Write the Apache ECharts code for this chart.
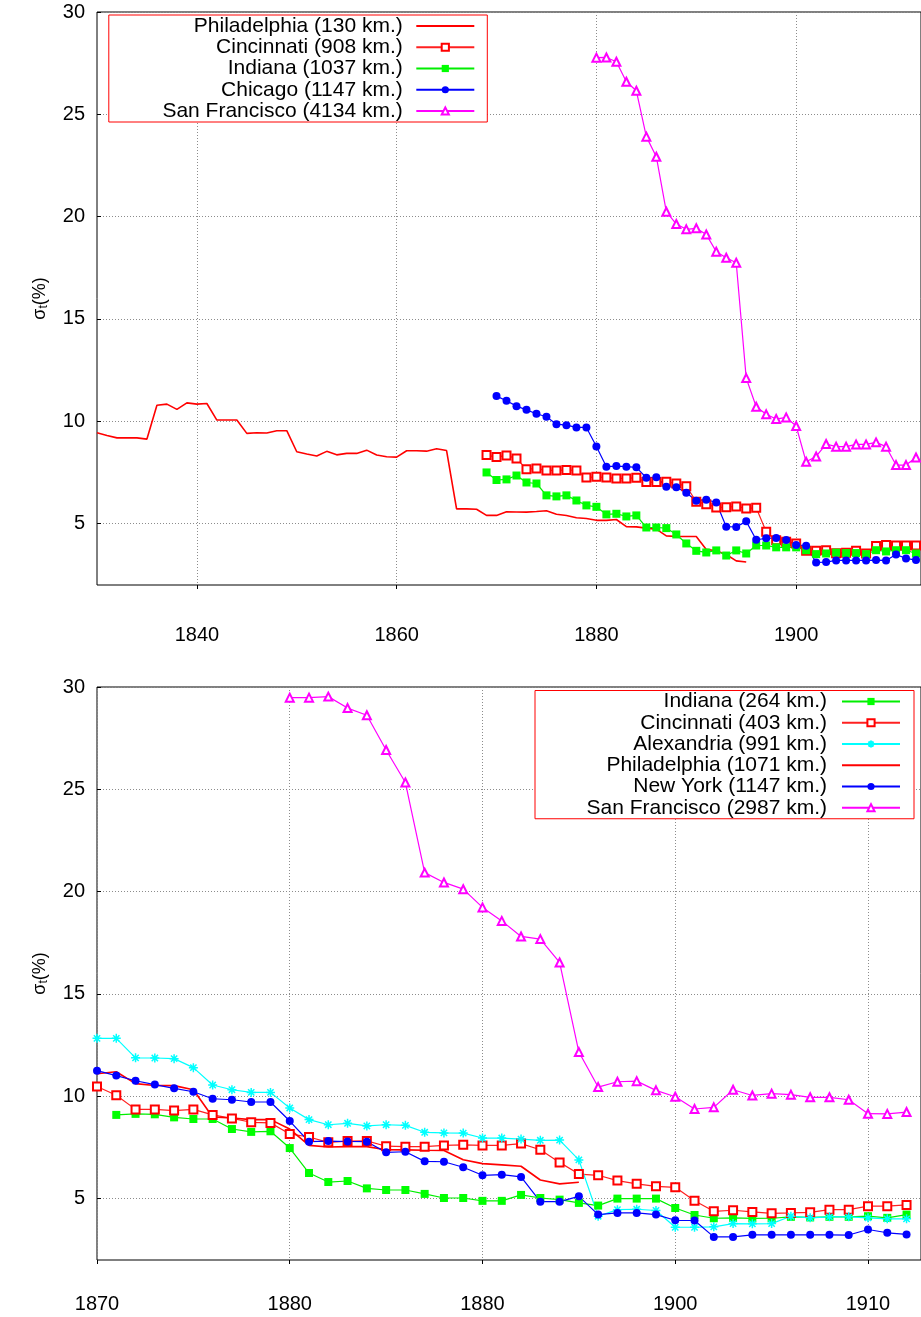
<!DOCTYPE html>
<html><head><meta charset="utf-8">
<script src="https://cdn.jsdelivr.net/npm/echarts@6/dist/echarts.min.js"></script>
<style>html,body{margin:0;padding:0;background:#fff}#c{width:921px;height:1317px}</style>
</head><body><div id="c"></div>
<script>
// ---------- tick labels ----------
const yTicks = [5, 10, 15, 20, 25, 30];
const topXTicks = [1840, 1860, 1880, 1900];
const topXLabels = ['1840', '1860', '1880', '1900'];
const bottomXTicks = [1870, 1880, 1890, 1900, 1910];
const bottomXLabels = ['1870', '1880', '1880', '1900', '1910'];

// ---------- top panel series (start year + yearly values) ----------
const topNames = ['Philadelphia (130 km.)', 'Cincinnati (908 km.)', 'Indiana (1037 km.)', 'Chicago (1147 km.)', 'San Francisco (4134 km.)'];
const topPhiladelphiaStart = 1830;
const topPhiladelphia = [9.44, 9.31, 9.19, 9.19, 9.19, 9.13, 10.78, 10.84, 10.58, 10.90,
  10.84, 10.87, 10.06, 10.06, 10.06, 9.41, 9.44, 9.43, 9.54, 9.54,
  8.51, 8.40, 8.30, 8.53, 8.36, 8.43, 8.43, 8.59, 8.35, 8.27,
  8.25, 8.56, 8.56, 8.54, 8.66, 8.57, 5.72, 5.72, 5.70, 5.40,
  5.40, 5.58, 5.57, 5.56, 5.59, 5.63, 5.46, 5.40, 5.29, 5.25,
  5.16, 5.16, 5.20, 4.85, 4.84, 4.78, 4.73, 4.40, 4.37, 4.37,
  4.37, 3.74, 3.67, 3.49, 3.18, 3.12];
const topCincinnatiStart = 1869;
const topCincinnati = [8.35, 8.25, 8.33, 8.18, 7.66, 7.69, 7.60, 7.60, 7.62, 7.60,
  7.25, 7.29, 7.25, 7.21, 7.21, 7.24, 7.03, 7.03, 7.04, 6.96,
  6.83, 6.07, 5.95, 5.79, 5.80, 5.84, 5.74, 5.77, 4.60, 4.19,
  4.11, 4.03, 3.67, 3.67, 3.70, 3.55, 3.58, 3.67, 3.54, 3.90,
  3.96, 3.93, 3.93, 3.93];
const topIndianaStart = 1869;
const topIndiana = [7.50, 7.13, 7.16, 7.35, 7.01, 6.96, 6.38, 6.33, 6.38, 6.13,
  5.89, 5.82, 5.45, 5.48, 5.35, 5.40, 4.81, 4.81, 4.78, 4.47,
  4.03, 3.67, 3.59, 3.69, 3.44, 3.69, 3.54, 3.93, 3.93, 3.84,
  3.84, 3.84, 3.70, 3.51, 3.54, 3.58, 3.56, 3.56, 3.51, 3.70,
  3.64, 3.70, 3.70, 3.54];
const topChicagoStart = 1870;
const topChicago = [11.23, 11.00, 10.74, 10.56, 10.37, 10.22, 9.86, 9.81, 9.70, 9.70,
  8.77, 7.78, 7.81, 7.78, 7.75, 7.24, 7.27, 6.80, 6.78, 6.51,
  6.12, 6.17, 6.03, 4.85, 4.84, 5.11, 4.21, 4.28, 4.30, 4.20,
  3.95, 3.92, 3.10, 3.12, 3.20, 3.20, 3.20, 3.20, 3.22, 3.20,
  3.49, 3.30, 3.22];
const topSanFranciscoStart = 1880;
const topSanFrancisco = [27.77, 27.78, 27.57, 26.59, 26.15, 23.91, 22.93, 20.24, 19.64, 19.38,
  19.43, 19.13, 18.29, 17.99, 17.75, 12.11, 10.71, 10.34, 10.11, 10.19,
  9.77, 8.02, 8.28, 8.89, 8.76, 8.76, 8.87, 8.87, 8.97, 8.76,
  7.86, 7.86, 8.23];

// ---------- bottom panel series ----------
const bottomNames = ['Indiana (264 km.)', 'Cincinnati (403 km.)', 'Alexandria (991 km.)', 'Philadelphia (1071 km.)', 'New York (1147 km.)', 'San Francisco (2987 km.)'];
const botIndianaStart = 1871;
const botIndiana = [9.09, 9.14, 9.12, 8.97, 8.89, 8.89, 8.40, 8.26, 8.29, 7.47,
  6.25, 5.81, 5.86, 5.50, 5.42, 5.42, 5.23, 5.03, 5.03, 4.89,
  4.89, 5.18, 5.03, 4.95, 4.79, 4.66, 5.00, 5.00, 5.00, 4.54,
  4.20, 4.04, 4.06, 4.03, 4.04, 4.11, 4.08, 4.11, 4.11, 4.14,
  4.06, 4.22];
const botCincinnatiStart = 1870;
const botCincinnati = [10.48, 10.05, 9.36, 9.36, 9.30, 9.36, 9.09, 8.92, 8.73, 8.70,
  8.16, 8.01, 7.75, 7.81, 7.82, 7.56, 7.54, 7.54, 7.60, 7.63,
  7.60, 7.60, 7.69, 7.39, 6.77, 6.20, 6.14, 5.88, 5.72, 5.60,
  5.55, 4.90, 4.38, 4.43, 4.35, 4.28, 4.30, 4.33, 4.46, 4.46,
  4.63, 4.63, 4.69];
const botAlexandriaStart = 1870;
const botAlexandria = [12.83, 12.83, 11.88, 11.87, 11.84, 11.40, 10.55, 10.32, 10.19, 10.19,
  9.43, 8.86, 8.61, 8.68, 8.55, 8.61, 8.58, 8.24, 8.21, 8.20,
  7.96, 7.96, 7.91, 7.85, 7.86, 6.89, 4.14, 4.46, 4.48, 4.42,
  3.60, 3.60, 3.62, 3.78, 3.77, 3.78, 4.14, 4.06, 4.11, 4.11,
  4.06, 4.01, 4.01];
const botPhiladelphiaStart = 1870;
const botPhiladelphia = [11.10, 11.20, 10.62, 10.53, 10.52, 10.32, 8.99, 8.94, 8.86, 8.86,
  8.40, 7.60, 7.52, 7.54, 7.54, 7.39, 7.38, 7.36, 7.35, 6.90,
  6.71, 6.65, 6.58, 5.91, 5.72, 5.80];
const botNewYorkStart = 1870;
const botNewYork = [11.25, 11.01, 10.76, 10.57, 10.39, 10.22, 9.88, 9.83, 9.72, 9.72,
  8.79, 7.78, 7.81, 7.79, 7.78, 7.26, 7.29, 6.82, 6.80, 6.53,
  6.14, 6.17, 6.06, 4.85, 4.85, 5.11, 4.22, 4.30, 4.30, 4.22,
  3.94, 3.93, 3.13, 3.13, 3.23, 3.23, 3.23, 3.23, 3.23, 3.22,
  3.49, 3.33, 3.25];
const botSanFranciscoStart = 1880;
const botSanFrancisco = [29.48, 29.48, 29.53, 28.97, 28.62, 26.92, 25.33, 20.93, 20.45, 20.12,
  19.23, 18.57, 17.81, 17.68, 16.54, 12.16, 10.45, 10.71, 10.74, 10.29,
  9.98, 9.38, 9.46, 10.32, 10.04, 10.13, 10.08, 9.95, 9.95, 9.83,
  9.15, 9.14, 9.23];

// ---------- styling ----------
const FONT = '"Liberation Sans", Arial, Helvetica, sans-serif';
const pairs = (start, vals) => vals.map((v, i) => [start + i, v]);
const STY = {
  phil: { symbol: 'circle', showSymbol: false, itemStyle: { color: 'rgba(0,0,0,0)' }, lineStyle: { color: '#ff0000', width: 1.6 } },
  cin: { symbol: 'emptyRect', symbolSize: 8, itemStyle: { color: '#ff0000', borderColor: '#ff0000', borderWidth: 1 }, lineStyle: { color: '#ff2020', width: 1.2 } },
  ind: { symbol: 'rect', symbolSize: 8, itemStyle: { color: '#00ff00' }, lineStyle: { color: '#00ee00', width: 1.2 } },
  blue: { symbol: 'circle', symbolSize: 8, itemStyle: { color: '#0000ff' }, lineStyle: { color: '#0000ff', width: 1.2 } },
  sf: { symbol: 'emptyTriangle', symbolSize: 8, itemStyle: { color: '#ff00ff', borderColor: '#ff00ff', borderWidth: 1 }, lineStyle: { color: '#ff00ff', width: 1.2 } },
  alex: { symbol: 'path://M5,0L5,10M0,5L10,5M1.5,1.5L8.5,8.5M1.5,8.5L8.5,1.5', symbolSize: 9, symbolKeepAspect: true,
          itemStyle: { color: '#00ffff', borderColor: '#00ffff', borderWidth: 1.5 }, lineStyle: { color: '#00ffff', width: 1.2 } }
};
function mk(name, start, vals, idx, sty) {
  return Object.assign({
    type: 'line', name: name, xAxisIndex: idx, yAxisIndex: idx,
    data: pairs(start, vals), animation: false, silent: true,
    emphasis: { disabled: true }
  }, JSON.parse(JSON.stringify(sty)));
}

const series = [
  mk(topNames[0], topPhiladelphiaStart, topPhiladelphia, 0, STY.phil),
  mk(topNames[1], topCincinnatiStart, topCincinnati, 0, STY.cin),
  mk(topNames[2], topIndianaStart, topIndiana, 0, STY.ind),
  mk(topNames[3], topChicagoStart, topChicago, 0, STY.blue),
  mk(topNames[4], topSanFranciscoStart, topSanFrancisco, 0, STY.sf),
  mk(bottomNames[0], botIndianaStart, botIndiana, 1, STY.ind),
  mk(bottomNames[1], botCincinnatiStart, botCincinnati, 1, STY.cin),
  mk(bottomNames[2], botAlexandriaStart, botAlexandria, 1, STY.alex),
  mk(bottomNames[3], botPhiladelphiaStart, botPhiladelphia, 1, STY.phil),
  mk(bottomNames[4], botNewYorkStart, botNewYork, 1, STY.blue),
  mk(bottomNames[5], botSanFranciscoStart, botSanFrancisco, 1, STY.sf)
];

const splitLine = { show: true, lineStyle: { color: '#8c8c8c', type: [1, 2], width: 1 } };
function xAxis(idx, min, max, ticks, labels, margin) {
  return {
    type: 'value', gridIndex: idx, min: min, max: max,
    axisLine: { show: false },
    axisTick: { show: true, inside: false, length: 4, customValues: ticks, lineStyle: { color: '#000' } },
    axisLabel: { customValues: ticks, margin: margin, fontSize: 20, fontFamily: FONT, color: '#000',
      formatter: v => labels[ticks.indexOf(v)] },
    splitLine: splitLine
  };
}
function yAxis(idx) {
  return {
    type: 'value', gridIndex: idx, min: 2, max: 30,
    axisLine: { show: false },
    axisTick: { show: true, inside: true, length: 4, customValues: yTicks, lineStyle: { color: '#000' } },
    axisLabel: { customValues: yTicks, margin: 12, fontSize: 20, fontFamily: FONT, color: '#000' },
    splitLine: splitLine,
    name: '{a|σ}{b|t}{a|(%)}', nameLocation: 'middle', nameRotate: 90, nameGap: 47,
    nameTextStyle: { fontFamily: FONT, color: '#000',
      rich: { a: { fontSize: 18, fontFamily: FONT, color: '#000' },
              b: { fontSize: 12, fontFamily: FONT, color: '#000', padding: [8, 0, 0, 0] } } }
  };
}
function legend(names, right, top, textW, textPad, padR) {
  return {
    data: names, orient: 'vertical', right: right, top: top, align: 'right',
    itemWidth: 58, itemHeight: 9, itemGap: 0.25, selectedMode: false,
    padding: [0.5, padR, 0.5, 0], borderColor: '#ff0000', borderWidth: 1, backgroundColor: '#fff',
    textStyle: { fontFamily: FONT, fontSize: 21, color: '#000', lineHeight: 21, width: textW,
      padding: [0, textPad, 0, 0], backgroundColor: 'rgba(255,255,255,0)' }
  };
}

const chart = echarts.init(document.getElementById('c'), null, { renderer: 'canvas' });
chart.setOption({
  animation: false,
  backgroundColor: '#fff',
  grid: [
    { left: 97, top: 12, right: -1, height: 573, show: true, borderColor: '#000', borderWidth: 1, backgroundColor: 'transparent' },
    { left: 97, top: 687, right: -1, height: 573, show: true, borderColor: '#000', borderWidth: 1, backgroundColor: 'transparent' }
  ],
  xAxis: [
    xAxis(0, 1830, 1912.5, topXTicks, topXLabels, 40),
    xAxis(1, 1870, 1912.75, bottomXTicks, bottomXLabels, 34)
  ],
  yAxis: [yAxis(0), yAxis(1)],
  legend: [
    legend(topNames, 921 - 487.3, 15, 294, 8.5, 12),
    legend(bottomNames, 921 - 914, 690.5, 292, 10, 13)
  ],
  series: series
});
</script></body></html>
